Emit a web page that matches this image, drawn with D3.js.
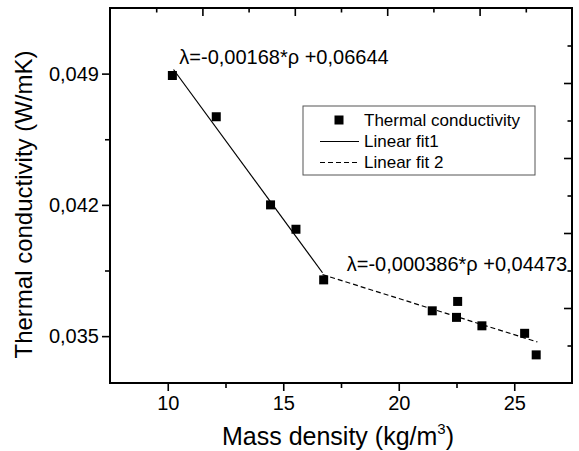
<!DOCTYPE html>
<html>
<head>
<meta charset="utf-8">
<script src="https://cdn.jsdelivr.net/npm/d3@7"></script>
<style>
  body { margin: 0; background: #fff; }
  svg { display: block; }
  text { font-family: Arial, "Liberation Sans", sans-serif; fill: #000; }
</style>
</head>
<body>
<svg id="chart" width="579" height="451"></svg>
<script>
const density = [10.2, 12.1, 14.45, 15.55, 16.75, 21.45, 22.55, 22.5, 23.6, 25.45, 25.95];
const conductivity = [0.0489, 0.0467, 0.0420, 0.0407, 0.0380, 0.03635, 0.03685, 0.0360, 0.03555, 0.03515, 0.0340];

// fit line end points (rho, lambda)
const fit1 = [[10.25, 0.04922], [16.7, 0.03838]];
const fit2 = [[16.7, 0.03828], [26.0, 0.03469]];

const xTicks = [10, 15, 20, 25];
const xMinor = [12.5, 17.5, 22.5];
const yTicks = [0.035, 0.042, 0.049];
const yMinor = [0.0385, 0.0455];

const legendLabels = ["Thermal conductivity", "Linear fit1", "Linear fit 2"];
const fitLabels = ["λ=-0,00168*ρ +0,06644", "λ=-0,000386*ρ +0,04473"];

(function () {
  const left = 110, right = 572, top = 8, bottom = 383;
  const svg = d3.select("#chart");

  const x = d3.scaleLinear().domain([7.5, 27.5]).range([left, right]);
  const y = d3.scaleLinear().domain([0.0325, 0.0525]).range([bottom, top]);
  // the top and right axes of the original use their own scales
  const xTop = d3.scaleLinear().domain([0, 5]).range([left, right]);
  const yRight = d3.scaleLinear().domain([0, 5]).range([bottom, top]);

  const fmt = d3.format(".3f");
  const comma = (d) => fmt(d).replace(".", ",");

  function axis(g, ax) {
    g.call(ax);
    g.select(".domain").remove();
    g.selectAll(".tick line").attr("stroke", "#000").attr("stroke-width", 1.6);
  }

  // bottom axis
  svg.append("g").attr("transform", `translate(0,${bottom})`)
    .call((g) => axis(g, d3.axisBottom(x).tickValues(xTicks).tickSize(8).tickPadding(5)))
    .selectAll("text").attr("font-size", 20);
  svg.append("g").attr("transform", `translate(0,${bottom})`)
    .call((g) => axis(g, d3.axisBottom(x).tickValues(xMinor).tickSize(5).tickFormat("")));

  // left axis
  svg.append("g").attr("transform", `translate(${left},0)`)
    .call((g) => axis(g, d3.axisLeft(y).tickValues(yTicks).tickSize(8).tickPadding(3).tickFormat(comma)))
    .selectAll("text").attr("font-size", 20);
  svg.append("g").attr("transform", `translate(${left},0)`)
    .call((g) => axis(g, d3.axisLeft(y).tickValues(yMinor).tickSize(5).tickFormat("")));

  // top axis, ticks inward
  svg.append("g").attr("transform", `translate(0,${top})`)
    .call((g) => axis(g, d3.axisTop(xTop).tickValues([1, 2, 3, 4]).tickSize(-8).tickFormat("")));
  svg.append("g").attr("transform", `translate(0,${top})`)
    .call((g) => axis(g, d3.axisTop(xTop).tickValues([0.5, 1.5, 2.5, 3.5, 4.5]).tickSize(-4.5).tickFormat("")));

  // right axis, ticks inward
  svg.append("g").attr("transform", `translate(${right},0)`)
    .call((g) => axis(g, d3.axisRight(yRight).tickValues([1, 2, 3, 4]).tickSize(-8).tickFormat("")));
  svg.append("g").attr("transform", `translate(${right},0)`)
    .call((g) => axis(g, d3.axisRight(yRight).tickValues([0.5, 1.5, 2.5, 3.5, 4.5]).tickSize(-4.5).tickFormat("")));

  // frame
  svg.append("rect")
    .attr("x", left).attr("y", top)
    .attr("width", right - left).attr("height", bottom - top)
    .attr("fill", "none").attr("stroke", "#000").attr("stroke-width", 2);

  // axis titles
  const xTitle = svg.append("text")
    .attr("x", 338).attr("y", 445)
    .attr("text-anchor", "middle").attr("font-size", 25);
  xTitle.append("tspan").text("Mass density (kg/m");
  xTitle.append("tspan").attr("font-size", 15).attr("dy", -11).text("3");
  xTitle.append("tspan").attr("dy", 11).text(")");

  svg.append("text")
    .attr("transform", `translate(32,${(top + bottom) / 2 + 9}) rotate(-90)`)
    .attr("text-anchor", "middle").attr("font-size", 24)
    .text("Thermal conductivity (W/mK)");

  // fit lines
  const line = d3.line().x((d) => x(d[0])).y((d) => y(d[1]));
  svg.append("path").attr("d", line(fit1))
    .attr("fill", "none").attr("stroke", "#000").attr("stroke-width", 1.2);
  svg.append("path").attr("d", line(fit2))
    .attr("fill", "none").attr("stroke", "#000").attr("stroke-width", 1.2)
    .attr("stroke-dasharray", "5,3");

  // data points
  const S = 9;
  svg.append("g").selectAll("rect")
    .data(density.map((d, i) => [d, conductivity[i]]))
    .join("rect")
    .attr("x", (d) => x(d[0]) - S / 2).attr("y", (d) => y(d[1]) - S / 2)
    .attr("width", S).attr("height", S).attr("fill", "#000");

  // fit equations
  svg.append("text").attr("x", x(10.5)).attr("y", y(0.04949))
    .attr("font-size", 20).text(fitLabels[0]);
  svg.append("text").attr("x", x(17.75)).attr("y", y(0.03845))
    .attr("font-size", 20).text(fitLabels[1]);

  // legend
  const lg = svg.append("g").attr("transform", "translate(303,106)");
  lg.append("rect").attr("width", 232).attr("height", 69)
    .attr("fill", "#fff").attr("stroke", "#555").attr("stroke-width", 1);
  lg.append("rect").attr("x", 36 - S / 2).attr("y", 14 - S / 2)
    .attr("width", S).attr("height", S).attr("fill", "#000");
  lg.append("line").attr("x1", 17).attr("x2", 56).attr("y1", 35.5).attr("y2", 35.5)
    .attr("stroke", "#000").attr("stroke-width", 1.2);
  lg.append("line").attr("x1", 17).attr("x2", 56).attr("y1", 56.5).attr("y2", 56.5)
    .attr("stroke", "#000").attr("stroke-width", 1.2).attr("stroke-dasharray", "5,3");
  lg.selectAll("text.lbl").data(legendLabels).join("text")
    .attr("class", "lbl")
    .attr("x", 61).attr("y", (d, i) => 20 + i * 21)
    .attr("font-size", 17).text((d) => d);
})();
</script>
</body>
</html>
